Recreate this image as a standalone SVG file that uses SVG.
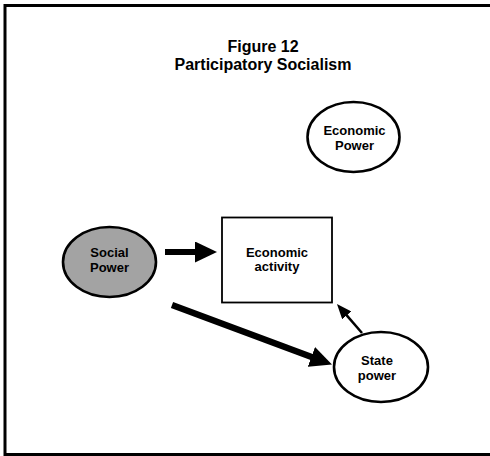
<svg xmlns="http://www.w3.org/2000/svg" width="490" height="456" viewBox="0 0 490 456">
<style>
  .t { font-family: "Liberation Sans", Arial, sans-serif; font-weight: bold; fill: #000; text-anchor: middle; }
  .title { font-size: 16px; }
  .lbl { font-size: 13px; }
  .node { stroke: #000; stroke-width: 2.6; fill: #fff; }
  .box { stroke: #000; stroke-width: 1.8; fill: #fff; }
  .conn { stroke: #000; fill: none; }
</style>
<defs>
  <marker id="bigHead" markerUnits="userSpaceOnUse" markerWidth="23" markerHeight="21" refX="1" refY="10.5" orient="auto">
    <path d="M0,0 L22,10.5 L0,21 z" fill="#000"/>
  </marker>
  <marker id="smallHead" markerUnits="userSpaceOnUse" markerWidth="16" markerHeight="12" refX="1" refY="6" orient="auto">
    <path d="M0,0 L15,6 L0,12 z" fill="#000"/>
  </marker>
</defs>
<rect x="0" y="0" width="490" height="456" fill="#fff"/>
<rect id="frame" x="5" y="5.5" width="500" height="449" fill="#fff" stroke="#000" stroke-width="3"/>
<g id="title">
  <text class="t title" x="263" y="51.5">Figure 12</text>
  <text class="t title" x="263" y="69.5">Participatory Socialism</text>
</g>
<g id="connectors">
  <path class="conn" d="M165,252 L196,252" stroke-width="6" marker-end="url(#bigHead)"/>
  <path class="conn" d="M172,305 L312.3,357.2" stroke-width="6.5" marker-end="url(#bigHead)"/>
  <path class="conn" d="M362,333 L346.1,314.6" stroke-width="2.5" marker-end="url(#smallHead)"/>
</g>
<g id="economic-power">
  <ellipse class="node" cx="353.5" cy="137" rx="46" ry="35"/>
  <text class="t lbl" x="354.5" y="135">Economic</text>
  <text class="t lbl" x="354.5" y="149.5">Power</text>
</g>
<g id="social-power">
  <ellipse class="node" cx="109.5" cy="262" rx="46.5" ry="35" fill="#a3a3a3" style="fill:#a3a3a3"/>
  <text class="t lbl" x="109.5" y="257">Social</text>
  <text class="t lbl" x="109.5" y="272">Power</text>
</g>
<g id="economic-activity">
  <rect class="box" x="222" y="217.5" width="110" height="85"/>
  <text class="t lbl" x="277" y="256.5">Economic</text>
  <text class="t lbl" x="277" y="271">activity</text>
</g>
<g id="state-power">
  <ellipse class="node" cx="381" cy="367" rx="47" ry="35"/>
  <text class="t lbl" x="377" y="365">State</text>
  <text class="t lbl" x="377" y="380">power</text>
</g>
</svg>
